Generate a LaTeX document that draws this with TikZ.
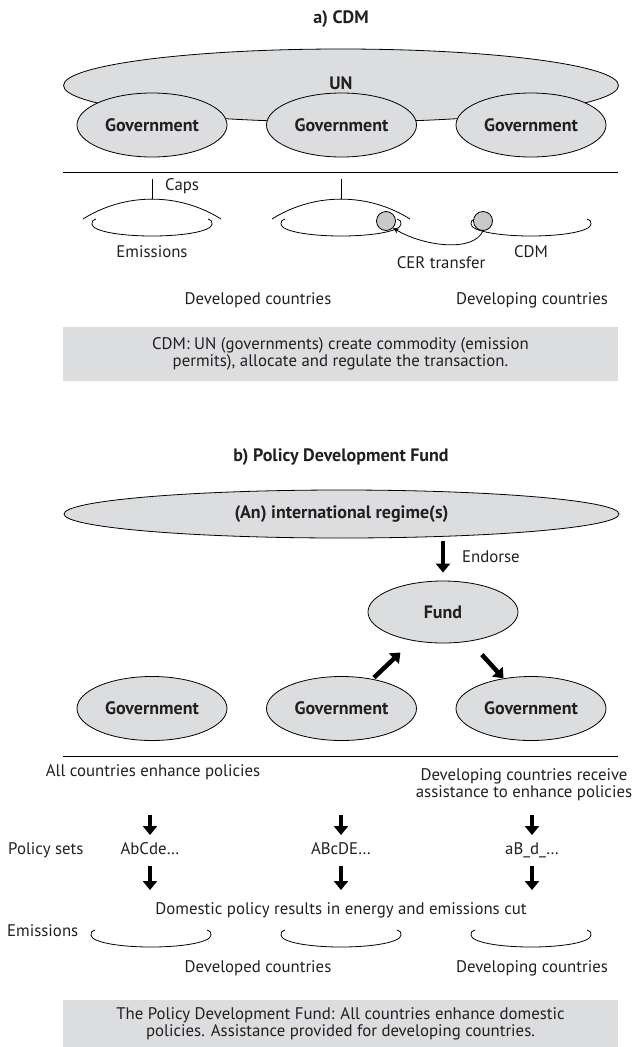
\documentclass[tikz,border=0pt]{standalone}
\usepackage{fontspec}
\setmainfont{PT Sans}
\usetikzlibrary{arrows.meta,shapes.geometric}

\definecolor{ovalgrey}{HTML}{DCDDDF}
\definecolor{dotgrey}{HTML}{C8C9CB}
\definecolor{txt}{HTML}{231F20}

% emissions cup: centre x, centre y
\newcommand{\emcup}[2]{%
  \draw[thinline] (#1-56,#2-5) .. controls (#1-60,#2-3) .. (#1-60,#2)
    .. controls (#1-60,#2+7) and (#1-33,#2+12) .. (#1,#2+12)
    .. controls (#1+33,#2+12) and (#1+60,#2+7) .. (#1+60,#2)
    .. controls (#1+60,#2-3) .. (#1+56,#2-5);}

\tikzset{
  thinline/.style={line width=0.8pt, draw=black},
  oval/.style={ellipse, draw, fill=ovalgrey, line width=0.8pt, inner sep=0pt,
    text=txt, font=\bfseries\fontsize{18}{20}\selectfont},
  govoval/.style={oval, minimum width=150pt, minimum height=64pt},
  lbl/.style={inner sep=0pt, text=txt, font=\fontsize{16.8}{17}\selectfont},
  word/.style={lbl, text height=12pt, text depth=3.5pt},
  ttl/.style={lbl, font=\bfseries\fontsize{18}{20}\selectfont},
  note/.style={lbl, fill=ovalgrey, minimum width=555pt, align=center},
  dot/.style={circle, draw, fill=dotgrey, line width=0.8pt, minimum size=19pt, inner sep=0pt},
  bigarrow/.style={line width=4.5pt, -{Triangle[width=14pt,length=9pt]}},
  cerarrow/.style={thinline, -{Stealth[length=6pt,width=5pt]}}
}

\begin{document}
\begin{tikzpicture}[x=1pt,y=-1pt]
\useasboundingbox (0,0) rectangle (634,1047);

% a) CDM
\node[ttl] (titlea) at (341,19) {a) CDM};
\node[oval, minimum width=555pt, minimum height=73pt, text depth=5pt] (un) at (341,85.5) {UN};
\foreach \n/\x in {1/152,2/341.5,3/531}
  \node[govoval] (gova\n) at (\x,125) {Government};
\draw[thinline] (63,172) -- (618,172);

% caps
\foreach \x in {152,341} {
  \draw[thinline] (\x,179) -- (\x,199);
  \draw[thinline] (\x-69,219) .. controls +(42,-26.5) and +(-42,-26.5) .. (\x+69,219);
}
\node[word, anchor=west] (caps) at (165,186) {Caps};

\emcup{152}{224}
\emcup{341}{224}
\emcup{531}{224}
\node[dot] (cera) at (386,221) {};
\node[dot] (cerb) at (483,221) {};
\draw[cerarrow] (cerb.south) .. controls +(-10,22) and +(30,18) .. (cera.south east);

\node[word] (emisa) at (152,253) {Emissions};
\node[word] (cer) at (441,264) {CER transfer};
\node[word] (cdm) at (531,253) {CDM};
\node[word] (deveda) at (258,300) {Developed countries};
\node[word] (devinga) at (532,300) {Developing countries};
\node[note, minimum height=54pt] (notea) at (340.5,354)
  {CDM: UN (governments) create commodity (emission\\permits), allocate and regulate the transaction.};

% b) Policy Development Fund
\node[ttl] (titleb) at (341,457) {b) Policy Development Fund};
\node[oval, minimum width=555pt, minimum height=48pt] (regime) at (341.5,514) {(An) international regime(s)};
\node[oval, minimum width=150pt, minimum height=62pt] (fund) at (443,612) {Fund};
\foreach \n/\x in {1/152,2/341.5,3/531}
  \node[govoval] (govb\n) at (\x,708.5) {Government};

\draw[bigarrow, shorten <=3pt, shorten >=8pt] (regime.south -| fund) -- (fund.north);
\node[word, anchor=west] (endorse) at (462,558) {Endorse};
\draw[bigarrow, shorten <=2pt, shorten >=17pt] (govb2) -- (fund);
\draw[bigarrow, shorten <=18pt] (fund) -- (govb3);

\draw[thinline] (63,756) -- (618,756);
\node[word] (allc) at (153,772) {All countries enhance policies};
\node[lbl, align=center] (devrec) at (524,785) {Developing countries receive\\assistance to enhance policies};

\node[word, anchor=west] (polsets) at (8,850) {Policy sets};
\node[word] (pola) at (150,850) {AbCde…};
\node[word] (polb) at (341,850) {ABcDE…};
\node[word] (polc) at (532,850) {aB\_d\_…};
\node[word] (dom) at (341,910) {Domestic policy results in energy and emissions cut};

\draw[bigarrow, shorten <=35pt, shorten >=7pt] (allc.south -| pola) -- (pola.north);
\draw[bigarrow, shorten <=35pt, shorten >=7pt] (allc.south -| polb) -- (polb.north);
\draw[bigarrow, shorten <=14pt, shorten >=7pt] (devrec.south -| polc) -- (polc.north);
\foreach \p in {pola,polb,polc}
  \draw[bigarrow, shorten <=8pt, shorten >=12pt] (\p.south) -- (dom.north -| \p);

\node[word, anchor=west] (emisb) at (7,932) {Emissions};
\emcup{151}{935}
\emcup{341}{935}
\emcup{531}{935}
\node[word] (devedb) at (258,968) {Developed countries};
\node[word] (devingb) at (532,968) {Developing countries};
\node[note, minimum height=47pt] (noteb) at (340.5,1023.5)
  {The Policy Development Fund: All countries enhance domestic\\policies. Assistance provided for developing countries.};
\end{tikzpicture}
\end{document}
